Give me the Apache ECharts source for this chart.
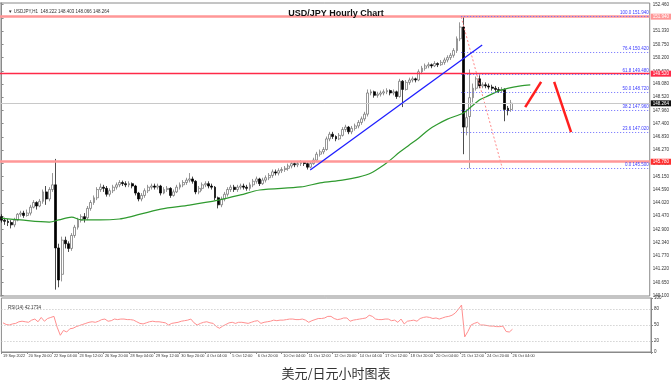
<!DOCTYPE html>
<html><head><meta charset="utf-8">
<script src="https://cdn.jsdelivr.net/npm/echarts@6/dist/echarts.min.js"></script>
<style>html,body{margin:0;padding:0;background:#fff}#c{width:672px;height:380px}</style>
</head><body><div id="c"></div>
<script>
// ---- time axis (4-hour slots, chart starts 19 Sep 12:00) ----
const tradingDays = ['19 Sep','20 Sep','21 Sep','22 Sep','23 Sep','26 Sep','27 Sep','28 Sep','29 Sep','30 Sep',
  '3 Oct','4 Oct','5 Oct','6 Oct','7 Oct','10 Oct','11 Oct','12 Oct','13 Oct','14 Oct',
  '17 Oct','18 Oct','19 Oct','20 Oct','21 Oct','24 Oct','25 Oct','26 Oct','27 Oct','28 Oct',
  '31 Oct','1 Nov','2 Nov','3 Nov','4 Nov'];
const barHours = ['00:00','04:00','08:00','12:00','16:00','20:00'];
const firstLabel = '19 Sep 2022';
const slotCount = 204;
const lastLabelled = 160;

// ---- candles [open, close, low, high] ----
const candles = [
[143.45,143.30,143.20,143.55],[143.30,143.25,143.10,143.40],[143.25,143.20,143.05,143.35],[143.20,143.10,142.95,143.30],
[143.10,143.30,143.00,143.40],[143.30,143.55,143.25,143.60],[143.55,143.60,143.45,143.70],[143.60,143.50,143.40,143.70],
[143.50,143.60,143.45,143.75],[143.60,143.85,143.50,143.95],[143.85,144.05,143.80,144.15],[144.05,143.90,143.75,144.10],
[143.90,144.10,143.85,144.20],[144.10,144.50,144.00,144.60],[144.50,144.20,143.95,144.75],[144.20,144.60,144.10,144.70],
[144.60,144.80,144.50,145.30],[144.80,142.12,140.35,145.90],[142.12,140.76,140.45,142.30],[141.00,142.45,140.70,142.60],
[142.45,142.30,142.10,142.60],[142.30,142.10,141.95,142.40],[142.10,142.65,142.00,142.75],[142.65,143.00,142.55,143.10],
[143.00,143.30,142.90,143.40],[143.30,143.45,143.20,143.55],[143.45,143.35,143.20,143.60],[143.40,143.80,143.30,143.90],
[143.80,144.05,143.70,144.15],[144.05,144.25,143.95,144.35],[144.25,144.60,144.15,144.70],[144.60,144.70,144.50,144.85],
[144.70,144.65,144.50,144.80],[144.65,144.40,144.30,144.75],[144.40,144.55,144.30,144.65],[144.55,144.70,144.45,144.80],
[144.70,144.80,144.60,144.90],[144.80,144.90,144.70,145.00],[144.90,144.85,144.75,144.98],[144.85,144.80,144.70,144.95],
[144.80,144.85,144.70,144.95],[144.85,144.75,144.65,144.90],[144.75,144.45,144.35,144.80],[144.45,144.20,144.10,144.50],
[144.20,144.35,144.10,144.45],[144.35,144.55,144.25,144.65],[144.55,144.70,144.45,144.80],[144.70,144.75,144.60,144.85],
[144.75,144.70,144.60,144.85],[144.70,144.75,144.60,144.85],[144.75,144.45,144.35,144.80],[144.45,144.60,144.40,144.70],
[144.60,144.65,144.50,144.75],[144.65,144.35,144.25,144.70],[144.35,144.50,144.30,144.60],[144.50,144.70,144.45,144.80],
[144.70,144.80,144.60,144.90],[144.80,144.90,144.70,145.00],[144.90,145.00,144.80,145.10],[145.00,145.05,144.90,145.30],
[145.05,144.95,144.85,145.15],[144.95,144.50,144.40,145.00],[144.50,144.65,144.40,144.75],[144.65,144.80,144.55,144.90],
[144.80,144.85,144.70,144.95],[144.85,144.75,144.65,144.95],[144.75,144.70,144.60,144.85],[144.70,144.25,144.15,144.75],
[144.25,143.95,143.80,144.30],[143.95,144.20,143.85,144.30],[144.20,144.40,144.10,144.50],[144.40,144.60,144.30,144.70],
[144.60,144.70,144.50,144.80],[144.70,144.60,144.50,144.80],[144.60,144.70,144.50,144.80],[144.70,144.75,144.60,144.85],
[144.75,144.70,144.60,144.85],[144.70,144.65,144.55,144.80],[144.65,144.80,144.55,144.90],[144.80,144.95,144.70,145.05],
[144.95,145.05,144.85,145.15],[145.05,144.85,144.75,145.10],[144.85,145.00,144.80,145.10],[145.00,145.10,144.90,145.20],
[145.10,145.20,145.00,145.30],[145.20,145.35,145.10,145.45],[145.35,145.30,145.20,145.45],[145.30,145.40,145.20,145.50],
[145.40,145.45,145.30,145.55],[145.45,145.50,145.35,145.60],[145.50,145.60,145.40,145.70],[145.60,145.70,145.50,145.80],
[145.70,145.65,145.55,145.75],[145.65,145.70,145.55,145.80],[145.70,145.75,145.60,145.85],[145.75,145.70,145.60,145.80],
[145.70,145.55,145.45,145.75],[145.55,145.70,145.50,145.80],[145.70,145.85,145.65,145.95],[145.85,146.10,145.80,146.20],
[146.10,146.20,146.00,146.30],[146.20,146.30,146.10,146.40],[146.30,146.75,146.25,146.85],[146.75,146.95,146.65,147.05],
[146.95,146.85,146.75,147.05],[146.85,146.75,146.65,146.90],[146.75,146.90,146.70,147.00],[146.90,147.15,146.85,147.25],
[147.15,147.25,147.05,147.35],[147.25,147.05,146.95,147.30],[147.05,147.20,146.95,147.30],[147.20,147.30,147.10,147.40],
[147.30,147.45,147.20,147.55],[147.45,147.60,147.35,147.70],[147.60,147.80,147.50,147.90],[147.80,148.70,147.70,148.85],
[148.70,148.75,148.60,148.85],[148.75,148.60,148.50,148.80],[148.60,148.65,148.50,148.75],[148.65,148.70,148.55,148.80],
[148.70,148.75,148.60,148.85],[148.75,148.80,148.65,148.90],[148.80,148.70,148.60,148.85],[148.70,148.75,148.60,148.85],
[148.75,148.55,148.45,148.80],[148.55,149.20,148.50,149.30],[149.20,148.85,148.10,149.25],[148.85,149.15,148.80,149.25],
[149.15,149.25,149.05,149.35],[149.25,149.30,149.15,149.40],[149.30,149.25,149.15,149.35],[149.25,149.60,149.20,149.70],
[149.60,149.75,149.50,149.85],[149.75,149.85,149.65,149.95],[149.85,149.90,149.75,150.00],[149.90,149.85,149.75,149.95],
[149.85,149.95,149.80,150.05],[149.95,149.90,149.80,150.00],[149.90,150.00,149.85,150.10],[150.00,150.10,149.90,150.20],
[150.10,150.20,150.00,150.30],[150.20,150.30,150.10,150.40],[150.30,150.50,150.20,150.60],[150.50,151.00,150.40,151.10],
[151.00,151.50,150.90,151.70],[151.50,147.25,146.10,151.94],[147.25,147.65,146.90,148.00],[147.70,148.50,145.50,149.70],
[148.50,148.90,148.30,149.10],[148.90,149.30,148.80,149.40],[149.30,149.00,148.90,149.45],[149.00,149.05,148.90,149.15],
[149.05,149.00,148.90,149.15],[149.00,148.95,148.85,149.10],[148.95,148.90,148.80,149.05],[148.90,148.85,148.75,149.00],
[148.85,148.80,148.70,148.95],[148.80,148.85,148.70,148.95],[148.85,148.00,147.50,148.90],[148.05,147.95,147.75,148.15],
[148.00,148.264,147.90,148.403]
];

// ---- moving average, [slot, price] ----
const maPoints = [[0,143.39],[6,143.31],[15,143.22],[18,143.31],[22,143.43],[25,143.31],[31,143.31],[37,143.35],[40,143.43],
  [50,143.77],[59,143.94],[68,144.15],[75,144.37],[81,144.58],[94,144.71],[100,144.88],[107,145.0],[112,145.13],[116,145.3],
  [120,145.64],[122,145.85],[125,146.19],[128,146.49],[131,146.79],[134,147.13],[137,147.38],[140,147.59],[145,147.85],
  [147,148.06],[150,148.4],[152,148.53],[157,148.83],[163,149.0],[166,149.04]];

// ---- RSI(14) per slot ----
const rsi = [54,51,50,52,53,56,57,56,55,59, 61,56,64,57,62,64,66,46,31,40,
  37,43,44,47,49,51,53,55,56,55, 57,60,61,57,58,61,60,61,61,60, 60,59,56,53,52,54,56,57,56,56,
  55,54,50,53,54,55,57,58,59,61, 54,50,53,55,56,54,53,47,44,48, 51,54,55,53,55,55,54,53,55,57,
  58,53,55,56,57,59,58,59,59,60, 61,61,60,60,61,59,55,58,60,62, 62,63,66,66,62,60,61,63,63,57,
  59,60,61,62,63,68,66,61,60,60, 61,61,58,59,55,61,52,57,58,59, 57,62,64,65,64,62,63,61,63,65,
  66,68,72,79,87,28,38,50,53,55, 50,50,49,48,48,47,47,48,38,37, 42.1734];

// ---- levels and annotations ----
const priceTicks = [140.100,140.650,141.220,141.770,142.340,142.900,143.470,144.020,144.590,145.150,145.710,146.270,
  146.830,147.400,147.960,148.520,149.080,149.620,150.200,150.750,151.330,151.890,152.460];
const rsiTicks = [0,20,50,80,100];
const rsiLevels = [20,50,80];
const redLevels = [151.94, 149.52, 145.78];
const lastPrice = 148.264;
const fibRatios = [100.0, 76.4, 61.8, 50.0, 38.2, 23.6, 0.0];
const fibPrices = [151.94, 150.42, 149.48, 148.72, 147.96, 147.02, 145.50];
const fibStartSlot = 144.3;
const fibDiagonal = [[144.3,151.93],[157.2,145.51]];
const trendLine = [[96.9,145.43],[150.9,150.74]];
const arrowUp = [[164.4,148.10],[169.4,149.17]];
const arrowDown = [[173.5,149.17],[178.8,147.04]];

// categories
const categories = [];
tradingDays.forEach((d, di) => {
  barHours.forEach((h, hi) => {
    if (di === 0 && hi < 3) return;
    if (categories.length < slotCount) categories.push(d + ' ' + h);
  });
});

const FONT = 'Liberation Sans, Arial, sans-serif';
const tiny = {fontSize: 4.5, fontFamily: FONT, color: '#333', fontWeight: 'normal'};

function boxLabel(text, bg) {
  return {show: true, position: 'end', distance: 1, formatter: text, backgroundColor: bg,
    color: '#fff', fontSize: 4.5, padding: [1, 2, 0, 2], fontFamily: FONT};
}

const chart = echarts.init(document.getElementById('c'), null, {renderer: 'canvas'});
chart.setOption({
  animation: false,
  backgroundColor: '#ffffff',
  title: [
    {text: 'USD/JPY Hourly Chart', left: 'center', top: 4,
     textStyle: {fontSize: 9, fontWeight: 'bold', color: '#111', fontFamily: FONT}},
    {text: '\u25BC USDJPY,H1  148.222 148.403 148.066 148.264', left: 3, top: 4, textStyle: tiny},
    {text: 'RSI(14) 42.1734', left: 3, top: 300, textStyle: tiny},
    {text: '美元/日元小时图表', left: 'center', top: 362,
     textStyle: {fontSize: 13, fontWeight: 'normal', color: '#333', fontFamily: 'Noto Sans CJK SC'}}
  ],
  grid: [
    {left: 0, right: 21, top: 3, height: 293, show: true, borderColor: '#8a8a8a', borderWidth: 1, backgroundColor: 'transparent'},
    {left: 0, right: 21, top: 298, height: 54, show: true, borderColor: '#8a8a8a', borderWidth: 1, backgroundColor: 'transparent'}
  ],
  xAxis: [
    {type: 'category', gridIndex: 0, data: categories, boundaryGap: true,
     axisLine: {show: false}, axisTick: {show: false}, axisLabel: {show: false}, splitLine: {show: false}},
    {type: 'value', gridIndex: 0, min: -0.5, max: slotCount - 0.5, show: false},
    {type: 'category', gridIndex: 1, data: categories, boundaryGap: true,
     axisLine: {show: true, lineStyle: {color: '#8a8a8a'}},
     axisTick: {show: true, length: 2, lineStyle: {color: '#8a8a8a'},
       interval: (i) => i <= lastLabelled && i % 8 === 0},
     axisLabel: {show: true, margin: 2, align: 'left', fontSize: 3.9, color: '#333', fontFamily: FONT,
       showMinLabel: true, hideOverlap: false,
       interval: (i) => i <= lastLabelled && i % 8 === 0,
       formatter: (v, i) => i === 0 ? firstLabel : v},
     splitLine: {show: false}}
  ],
  yAxis: [
    {type: 'value', gridIndex: 0, position: 'right', min: 140.08, max: 152.52,
     axisLine: {show: true, lineStyle: {color: '#8a8a8a'}},
     axisTick: {show: true, length: 2, customValues: priceTicks, lineStyle: {color: '#8a8a8a'}},
     axisLabel: {show: true, margin: 3, fontSize: 4.5, color: '#333', customValues: priceTicks,
       fontFamily: FONT, formatter: (v) => v.toFixed(3)},
     splitLine: {show: false}},
    {type: 'value', gridIndex: 1, position: 'right', min: 0, max: 100,
     axisLine: {show: true, lineStyle: {color: '#8a8a8a'}},
     axisTick: {show: true, length: 2, customValues: rsiTicks, lineStyle: {color: '#8a8a8a'}},
     axisLabel: {show: true, margin: 3, fontSize: 4.5, color: '#333', customValues: rsiTicks, fontFamily: FONT},
     splitLine: {show: false}}
  ],
  series: [
    {type: 'candlestick', xAxisIndex: 0, yAxisIndex: 0, data: candles, barWidth: 2.4, z: 3,
     itemStyle: {color: '#ffffff', color0: '#000000', borderColor: '#6a6a6a', borderColor0: '#000000', borderWidth: 0.7}},
    {type: 'line', xAxisIndex: 1, yAxisIndex: 0, data: maPoints, showSymbol: false, smooth: 0.3, z: 4,
     lineStyle: {color: '#2f9a2f', width: 1.2}},
    {type: 'line', xAxisIndex: 1, yAxisIndex: 0, data: trendLine, showSymbol: false, z: 5,
     lineStyle: {color: '#1f1fff', width: 1.3},
     markLine: {silent: true, symbol: ['none', 'none'], animation: false,
       data: [
         {yAxis: lastPrice, lineStyle: {color: '#c8c8c8', width: 1, type: 'solid'}, label: boxLabel(lastPrice.toFixed(3), '#111')},
         {yAxis: redLevels[0], lineStyle: {color: '#ff9797', width: 2.5, type: 'solid'}, label: boxLabel(redLevels[0].toFixed(3), '#ff9797')},
         {yAxis: redLevels[1], lineStyle: {color: '#ff2a48', width: 1.4, type: 'solid'}, label: boxLabel(redLevels[1].toFixed(3), '#ff2a48')},
         {yAxis: redLevels[2], lineStyle: {color: '#ff9797', width: 2.5, type: 'solid'}, label: boxLabel(redLevels[2].toFixed(3), '#ff3030')}
       ]}},
    {type: 'line', xAxisIndex: 1, yAxisIndex: 0, data: fibDiagonal, showSymbol: false, z: 4,
     lineStyle: {color: '#ff8a8a', width: 1, type: [2, 2]},
     markLine: {silent: true, symbol: ['none', 'none'], animation: false,
       lineStyle: {color: '#6a6aff', width: 1, type: [1, 2]},
       label: {show: true, position: 'insideEndTop', distance: 1, fontSize: 4.5, color: '#3b3bff', fontFamily: FONT},
       data: fibPrices.map((p, k) => [
         {coord: [fibStartSlot, p], name: fibRatios[k].toFixed(1) + ' ' + p.toFixed(3), label: {formatter: '{b}'}},
         {coord: [slotCount - 0.5, p]}
       ])}},
    {type: 'line', xAxisIndex: 1, yAxisIndex: 0, data: arrowUp, showSymbol: false, z: 6,
     lineStyle: {color: '#ff1f1f', width: 2.5}},
    {type: 'line', xAxisIndex: 1, yAxisIndex: 0, data: arrowDown, showSymbol: false, z: 6,
     lineStyle: {color: '#ff1f1f', width: 2.5}},
    {type: 'line', xAxisIndex: 2, yAxisIndex: 1, data: rsi, showSymbol: false, z: 4,
     lineStyle: {color: '#ff8f8f', width: 1},
     markLine: {silent: true, symbol: ['none', 'none'], animation: false, label: {show: false},
       lineStyle: {color: '#bdbdbd', width: 1, type: [1, 2]},
       data: rsiLevels.map(v => ({yAxis: v}))}}
  ]
});
</script>
</body></html>
